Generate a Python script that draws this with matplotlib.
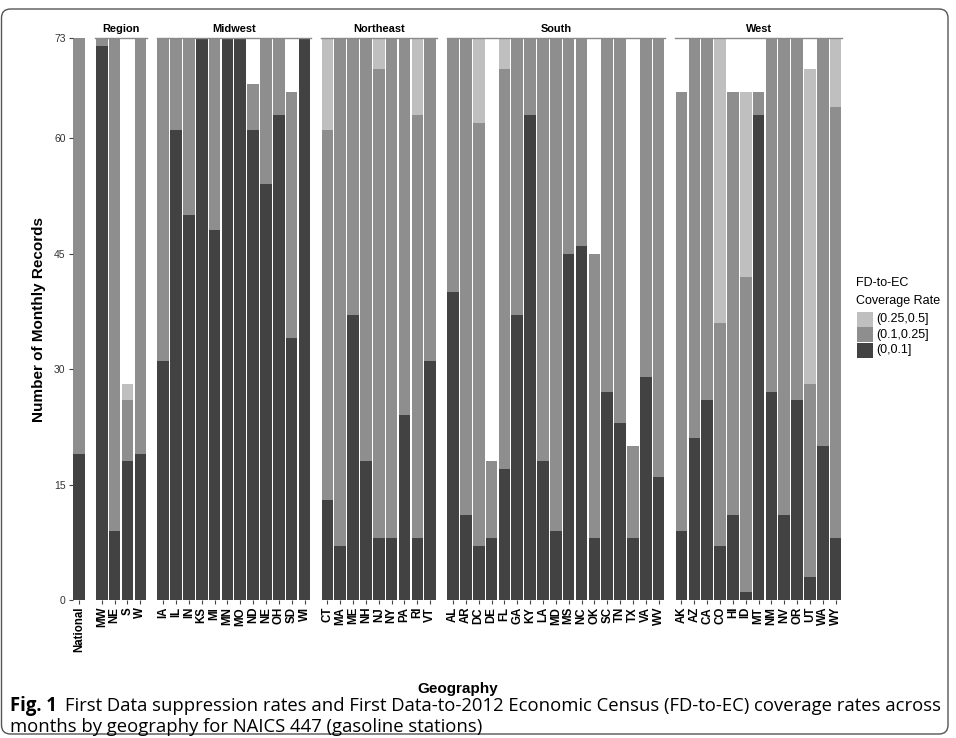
import numpy as np
import matplotlib
matplotlib.use("Agg")
import matplotlib.pyplot as plt
from matplotlib.patches import Rectangle, FancyBboxPatch
from matplotlib.transforms import IdentityTransform

plt.rcParams['font.family'] = ['Liberation Sans', 'DejaVu Sans']

# counts of monthly records per coverage-rate bin
# low = (0,0.1], mid = (0.1,0.25], high = (0.25,0.5]
national_labels = ["National"]
national_low = [19]
national_mid = [54]
national_high = [0]

region_labels = ["MW", "NE", "S", "W"]
region_low = [72, 9, 18, 19]
region_mid = [1, 64, 8, 54]
region_high = [0, 0, 2, 0]

midwest_labels = ["IA", "IL", "IN", "KS", "MI", "MN", "MO", "ND", "NE", "OH", "SD", "WI"]
midwest_low = [31, 61, 50, 73, 48, 73, 73, 61, 54, 63, 34, 73]
midwest_mid = [42, 12, 23, 0, 25, 0, 0, 6, 19, 10, 32, 0]
midwest_high = [0, 0, 0, 0, 0, 0, 0, 0, 0, 0, 0, 0]

northeast_labels = ["CT", "MA", "ME", "NH", "NJ", "NY", "PA", "RI", "VT"]
northeast_low = [13, 7, 37, 18, 8, 8, 24, 8, 31]
northeast_mid = [48, 66, 36, 55, 61, 65, 49, 55, 42]
northeast_high = [12, 0, 0, 0, 4, 0, 0, 10, 0]

south_labels = ["AL", "AR", "DC", "DE", "FL", "GA", "KY", "LA", "MD", "MS", "NC",
                "OK", "SC", "TN", "TX", "VA", "WV"]
south_low = [40, 11, 7, 8, 17, 37, 63, 18, 9, 45, 46, 8, 27, 23, 8, 29, 16]
south_mid = [33, 62, 55, 10, 52, 36, 10, 55, 64, 28, 27, 37, 46, 50, 12, 44, 57]
south_high = [0, 0, 11, 0, 4, 0, 0, 0, 0, 0, 0, 0, 0, 0, 0, 0, 0]

west_labels = ["AK", "AZ", "CA", "CO", "HI", "ID", "MT", "NM", "NV", "OR", "UT", "WA", "WY"]
west_low = [9, 21, 26, 7, 11, 1, 63, 27, 11, 26, 3, 20, 8]
west_mid = [57, 52, 47, 29, 55, 41, 3, 46, 62, 47, 25, 53, 56]
west_high = [0, 0, 0, 37, 0, 24, 0, 0, 0, 0, 41, 0, 9]

panels = [
    ("", national_labels, national_low, national_mid, national_high),
    ("Region", region_labels, region_low, region_mid, region_high),
    ("Midwest", midwest_labels, midwest_low, midwest_mid, midwest_high),
    ("Northeast", northeast_labels, northeast_low, northeast_mid, northeast_high),
    ("South", south_labels, south_low, south_mid, south_high),
    ("West", west_labels, west_low, west_mid, west_high),
]

legend_labels = ["(0.25,0.5]", "(0.1,0.25]", "(0,0.1]"]
c_low, c_mid, c_high = "#424242", "#8e8e8e", "#bfbfbf"

W, H = 956, 738
fig = plt.figure(figsize=(W / 100, H / 100), dpi=100)


def fx(x):
    return x / W


def fy(y):
    return 1 - y / H


# panel geometry in pixels
left, unit, gap = 72.5, 12.85, 10.0
top, bottom = 38.0, 600.0

x0 = left
first_ax = None
for title, labels, low, mid, high in panels:
    n = len(labels)
    ax = fig.add_axes([fx(x0), fy(bottom), unit * n / W, (bottom - top) / H])
    xs = np.arange(n)
    low = np.array(low)
    mid = np.array(mid)
    high = np.array(high)
    ax.bar(xs, low, width=0.9, color=c_low, linewidth=0)
    ax.bar(xs, mid, width=0.9, bottom=low, color=c_mid, linewidth=0)
    ax.bar(xs, high, width=0.9, bottom=low + mid, color=c_high, linewidth=0)
    ax.set_xlim(-0.5, n - 0.5)
    ax.set_ylim(0, 73)
    for s in ax.spines.values():
        s.set_visible(False)
    ax.set_xticks(xs)
    ax.set_xticklabels(labels, rotation=90, fontsize=8.3, fontweight="bold")
    ax.tick_params(axis="x", length=3, width=0.8, color="#444444", pad=2)
    if first_ax is None:
        first_ax = ax
        ax.set_yticks([0, 15, 30, 45, 60, 73])
        ax.tick_params(axis="y", length=3, width=0.8, color="#444444",
                       labelsize=7.5, labelcolor="#333333", pad=2)
    else:
        ax.set_yticks([])
    if title:
        ax.spines["top"].set_visible(True)
        ax.spines["top"].set_color("#8a8a8a")
        ax.spines["top"].set_linewidth(1.0)
        ax.set_title(title, fontsize=7.9, fontweight="bold", pad=4)
    x0 += unit * n + gap

fig.text(fx(39), fy((top + bottom) / 2), "Number of Monthly Records", rotation=90,
         ha="center", va="center", fontsize=11, fontweight="bold")
fig.text(fx(458), fy(689), "Geography", ha="center", va="center",
         fontsize=11, fontweight="bold")

# legend
fig.text(fx(856), fy(283), "FD-to-EC", ha="left", va="center", fontsize=9)
fig.text(fx(856), fy(301), "Coverage Rate", ha="left", va="center", fontsize=9)
for i, (lab, col) in enumerate(zip(legend_labels, [c_high, c_mid, c_low])):
    yc = 319 + i * 15.7
    fig.patches.append(Rectangle((fx(857), fy(yc + 7.5)), 16 / W, 15 / H,
                                 transform=fig.transFigure, color=col, linewidth=0))
    fig.text(fx(876), fy(yc), lab, ha="left", va="center", fontsize=9)

# caption
cap_font = ['Open Sans', 'DejaVu Sans']
t1 = fig.text(fx(10), fy(706), "Fig. 1", ha="left", va="center", fontsize=11.5,
              fontweight="bold", family=cap_font)
t2 = fig.text(fx(66), fy(706),
              "First Data suppression rates and First Data-to-2012 Economic Census "
              "(FD-to-EC) coverage rates across",
              ha="left", va="center", fontsize=11.5, family=cap_font)
t3 = fig.text(fx(10), fy(727), "months by geography for NAICS 447 (gasoline stations)",
              ha="left", va="center", fontsize=11.5, family=cap_font)

# fit caption width to the reference
fig.canvas.draw()
r = fig.canvas.get_renderer()
w2 = t2.get_window_extent(r).width
scale = 878 / w2
for t in (t1, t2, t3):
    t.set_fontsize(11.5 * scale)
fig.canvas.draw()
w1 = t1.get_window_extent(r).width
t2.set_x(fx(10 + w1 + 8))

# rounded frame
frame = FancyBboxPatch((1.5, H - 734), 946.5, 725, boxstyle="round,pad=0,rounding_size=9",
                       transform=IdentityTransform(), facecolor="none",
                       edgecolor="#555555", linewidth=1.0)
fig.patches.append(frame)

fig.savefig("out.png", dpi=100)
